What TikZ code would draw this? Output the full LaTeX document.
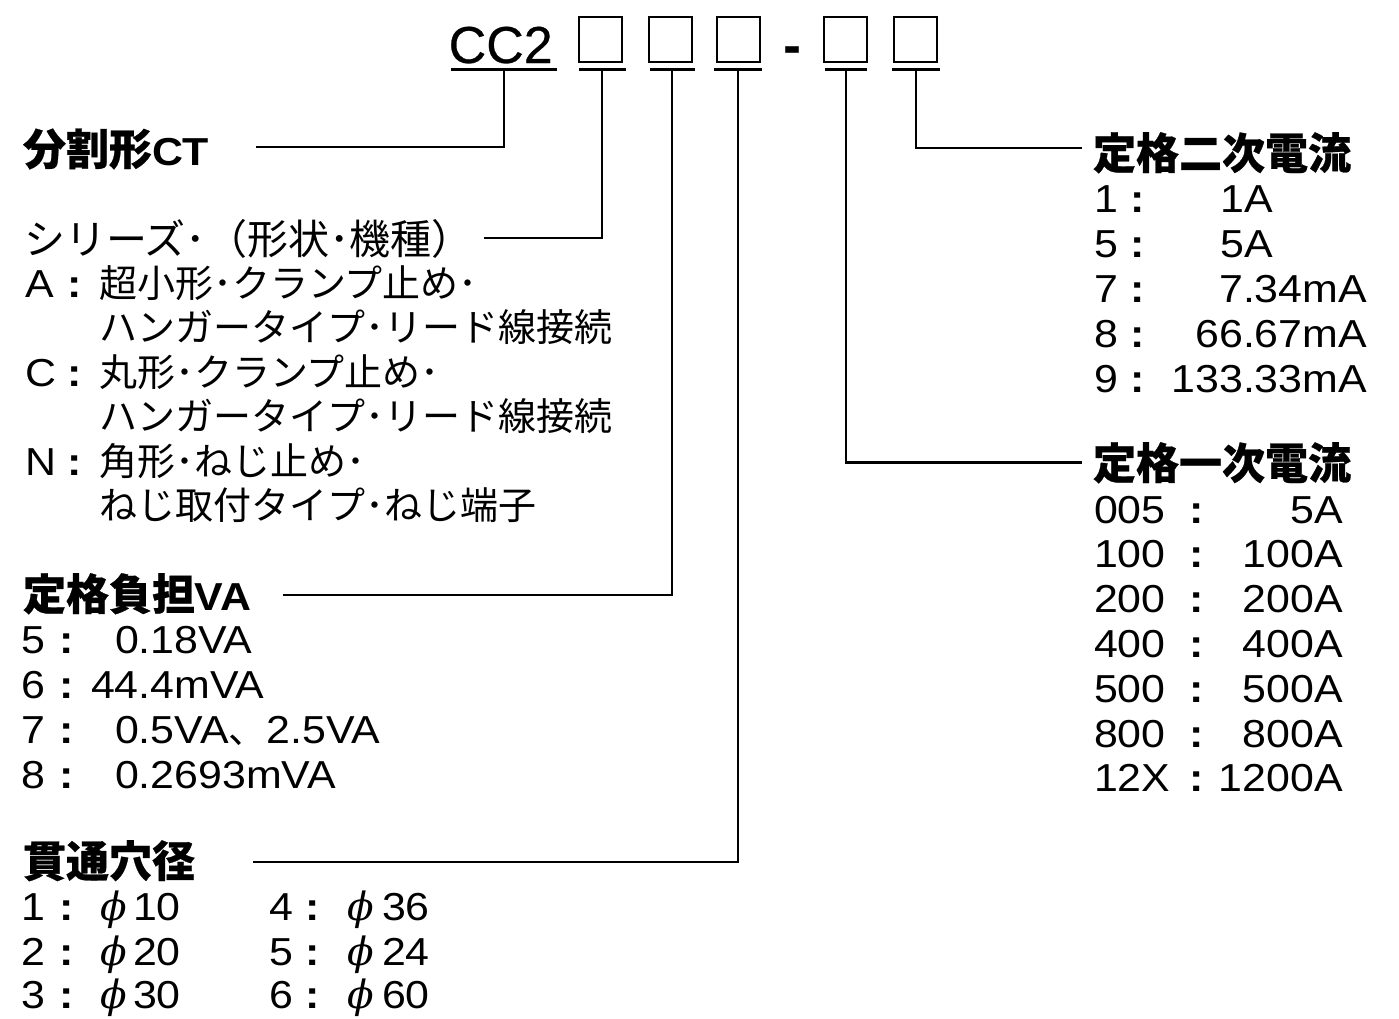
\documentclass[tikz,border=0pt]{standalone}
\usepackage{fontspec}
\setmainfont{Liberation Sans}[FakeStretch=1.1]
\newfontfamily\jp{Noto Sans CJK JP}
\newfontfamily\jph{Noto Sans CJK JP}[FakeBold=0.6]
\newfontfamily\ccfont{Liberation Sans}[FakeBold=0.5]
\newfontfamily\phifont{DejaVu Serif}
\newcommand\J[1]{{\jp\fontsize{38}{44}\selectfont #1}}
\newcommand\JH[1]{{\jph\fontsize{43}{48}\selectfont #1}}
\newcommand\Ph{{\phifont\itshape ϕ}}
\newcommand\colonmark{\makebox[0pt]{\textbf{:}}}
\newcommand\rowL[4]{\rlap{#1}\rlap{\hspace*{#2}\colonmark}\hspace*{#3}#4}
\newcommand\rowR[4]{\rlap{#1}\rlap{\hspace*{#2}\colonmark}\makebox[#3][r]{#4}}
\tikzset{
  txt/.style={anchor=base west, inner sep=0pt, outer sep=0pt, font=\fontsize{39}{44}\selectfont},
  head/.style={txt, font=\fontsize{39}{44}\selectfont\bfseries},
  slot/.style={draw, line width=2pt, minimum width=43pt, minimum height=45pt, inner sep=0pt},
  ubar/.style={fill=black, minimum height=3.4pt, inner sep=0pt, outer sep=0pt},
  conn/.style={line width=2.2pt},
  big/.style={inner sep=0pt, font={\fontsize{52}{56}\ccfont}},
}
\begin{document}
\begin{tikzpicture}[x=1pt,y=-1pt]
\useasboundingbox[fill=white] (0,0) rectangle (1399,1018);
% model code
\node[big, anchor=base west] (cc) at (448.5,63) {CC2};
\node[slot] (b1) at (600.5,39.5) {};
\node[slot] (b2) at (670.5,39.5) {};
\node[slot] (b3) at (738.5,39.5) {};
\node[big, anchor=base, font={\fontsize{52}{56}\ccfont\bfseries}] (dash) at (792,63) {-};
\node[slot] (b4) at (845.5,39.5) {};
\node[slot] (b5) at (915.5,39.5) {};
\node[ubar, minimum width=106pt] (u0) at (504,69.5) {};
\node[ubar, minimum width=47pt] (u1) at (602,69.5) {};
\node[ubar, minimum width=45pt] (u2) at (672,69.5) {};
\node[ubar, minimum width=48pt] (u3) at (738,69.5) {};
\node[ubar, minimum width=42pt] (u4) at (846,69.5) {};
\node[ubar, minimum width=48pt] (u5) at (916,69.5) {};
% free ends of connectors
\coordinate (e0) at (256,147);
\coordinate (e1) at (484,238);
\coordinate (e2) at (283,595);
\coordinate (e3) at (253,862);
\coordinate (e4) at (1082,462.5);
\coordinate (e5) at (1082,148);
\draw[conn] (u0.south) |- (e0);
\draw[conn] (u1.south) |- (e1);
\draw[conn] (u2.south) |- (e2);
\draw[conn] (u3.south) |- (e3);
\draw[conn] (u4.south) |- (e4);
\draw[conn] (u5.south) |- (e5);
% left column
\node[head] (hct) at (23,165) {\JH{分割形}CT};
\node[txt] (hser) at (24,254) {\jp\fontsize{41}{46}\selectfont シリーズ･（形状･機種）};
\node[txt] (sa1) at (25,297) {\rowL{A}{50pt}{74pt}{\J{超小形･クランプ止め･}}};
\node[txt] (sa2) at (99,341.5) {\J{ハンガータイプ･リード線接続}};
\node[txt] (sc1) at (25,386) {\rowL{C}{50pt}{74pt}{\J{丸形･クランプ止め･}}};
\node[txt] (sc2) at (99,430.5) {\J{ハンガータイプ･リード線接続}};
\node[txt] (sn1) at (25,475) {\rowL{N}{50pt}{74pt}{\J{角形･ねじ止め･}}};
\node[txt] (sn2) at (99,519.5) {\J{ねじ取付タイプ･ねじ端子}};
\node[head] (hva) at (23,610) {\JH{定格負担}VA};
\node[txt] (v5) at (21,653) {\rowL{5}{46pt}{94pt}{0.18VA}};
\node[txt] (v6) at (21,698) {\rowL{6}{46pt}{70pt}{44.4mVA}};
\node[txt] (v7) at (21,743) {\rowL{7}{46pt}{94pt}{0.5VA\J{、}2.5VA}};
\node[txt] (v8) at (21,788) {\rowL{8}{46pt}{94pt}{0.2693mVA}};
\node[head] (hd) at (23,877) {\JH{貫通穴径}};
\node[txt] (d1) at (21,920) {\rowL{1}{46pt}{79pt}{\rlap{\Ph}\hspace*{33pt}10}};
\node[txt] (d2) at (21,965) {\rowL{2}{46pt}{79pt}{\rlap{\Ph}\hspace*{33pt}20}};
\node[txt] (d3) at (21,1008) {\rowL{3}{46pt}{79pt}{\rlap{\Ph}\hspace*{33pt}30}};
\node[txt] (d4) at (269,920) {\rowL{4}{44pt}{78pt}{\rlap{\Ph}\hspace*{35pt}36}};
\node[txt] (d5) at (269,965) {\rowL{5}{44pt}{78pt}{\rlap{\Ph}\hspace*{35pt}24}};
\node[txt] (d6) at (269,1008) {\rowL{6}{44pt}{78pt}{\rlap{\Ph}\hspace*{35pt}60}};
% right column
\node[head] (h2) at (1093,169) {\JH{定格二次電流}};
\node[txt] (s1) at (1094,212) {\rowR{1}{44pt}{179pt}{1A}};
\node[txt] (s5) at (1094,257) {\rowR{5}{44pt}{179pt}{5A}};
\node[txt] (s7) at (1094,302) {\rowR{7}{44pt}{273pt}{7.34mA}};
\node[txt] (s8) at (1094,347) {\rowR{8}{44pt}{273pt}{66.67mA}};
\node[txt] (s9) at (1094,392) {\rowR{9}{44pt}{273pt}{133.33mA}};
\node[head] (h1) at (1093,479) {\JH{定格一次電流}};
\node[txt] (p005) at (1094,523) {\rowR{005}{103pt}{249pt}{5A}};
\node[txt] (p100) at (1094,567.8) {\rowR{100}{103pt}{249pt}{100A}};
\node[txt] (p200) at (1094,612.6) {\rowR{200}{103pt}{249pt}{200A}};
\node[txt] (p400) at (1094,657.4) {\rowR{400}{103pt}{249pt}{400A}};
\node[txt] (p500) at (1094,702.2) {\rowR{500}{103pt}{249pt}{500A}};
\node[txt] (p800) at (1094,747) {\rowR{800}{103pt}{249pt}{800A}};
\node[txt] (p12x) at (1094,791.8) {\rowR{12X}{103pt}{249pt}{1200A}};
\end{tikzpicture}
\end{document}
